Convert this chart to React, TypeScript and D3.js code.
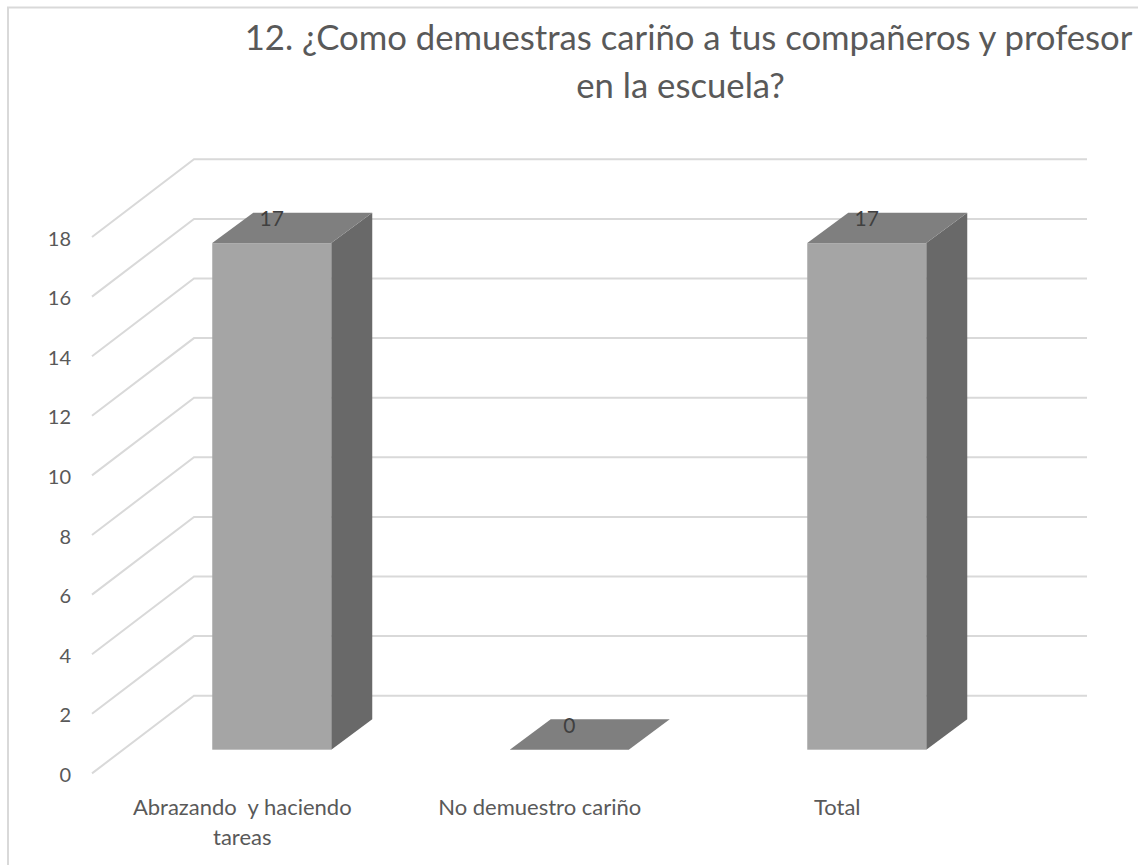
import React from "react";
import * as d3 from "d3";

const titleLines = ["12. ¿Como demuestras cariño a tus compañeros y profesor", "en la escuela?"];
const categories = ["Abrazando  y haciendo|tareas", "No demuestro cariño", "Total"];
const values = [17, 0, 17];
const yTicks = [0, 2, 4, 6, 8, 10, 12, 14, 16, 18];

const W = 1139, H = 865;
const depthX = 41, depthY = -30.4;
const y = d3.scaleLinear().domain([0, 18]).range([749.7, 213.3]);
const x = d3.scaleBand<string>().domain(categories).range([123, 1015.5]).paddingInner(0.6).paddingOuter(0.3);
const font = "Lato, Carlito, 'Open Sans', sans-serif";
const poly = (pts: [number, number][]) => pts.map(p => p.join(",")).join(" ");

export default function App() {
  const bw = x.bandwidth();
  return (
    <svg width={W} height={H} viewBox={`0 0 ${W} ${H}`} style={{ position: "absolute", left: 0, top: 0, background: "#fff" }} fontFamily={font}>
      <path d={`M8 865V7.5H1138`} fill="none" stroke="#d9d9d9" strokeWidth={2} />
      {titleLines.map((t, i) => (
        <text key={i} x={i === 0 ? 688.5 : 680.5} y={50 + i * 48} textAnchor="middle" fontSize={34.7} fill="#595959">{t}</text>
      ))}
      {yTicks.map(t => {
        const yb = y(t) - 54;
        const yf = y(t) + 23.7;
        return (
          <g key={t}>
            <polyline points={poly([[92, yf], [194, yb], [1087, yb]])} fill="none" stroke="#d9d9d9" strokeWidth={2} />
            <text x={71} y={yf + 8.5} textAnchor="end" fontSize={20} fill="#595959">{t}</text>
          </g>
        );
      })}
      {categories.map((c, i) => {
        const x0 = x(c)!;
        const x1 = x0 + bw;
        const yt = y(values[i]);
        const y0 = y(0);
        return (
          <g key={c}>
            <polygon points={poly([[x1, y0], [x1 + depthX, y0 + depthY], [x1 + depthX, yt + depthY], [x1, yt]])} fill="#696969" />
            <rect x={x0} y={yt} width={bw} height={y0 - yt} fill="#a5a5a5" />
            <polygon points={poly([[x0, yt], [x0 + depthX, yt + depthY], [x1 + depthX, yt + depthY], [x1, yt]])} fill="#7f7f7f" />
            <text x={x0 + bw / 2} y={yt - 17} textAnchor="middle" fontSize={21} fill="#404040">{values[i]}</text>
            {c.split("|").map((l, j) => (
              <text key={j} x={x0 + bw / 2 - 29.5} y={815 + j * 30} textAnchor="middle" fontSize={22} fill="#595959" style={{ whiteSpace: "pre" }}>{l}</text>
            ))}
          </g>
        );
      })}
    </svg>
  );
}
